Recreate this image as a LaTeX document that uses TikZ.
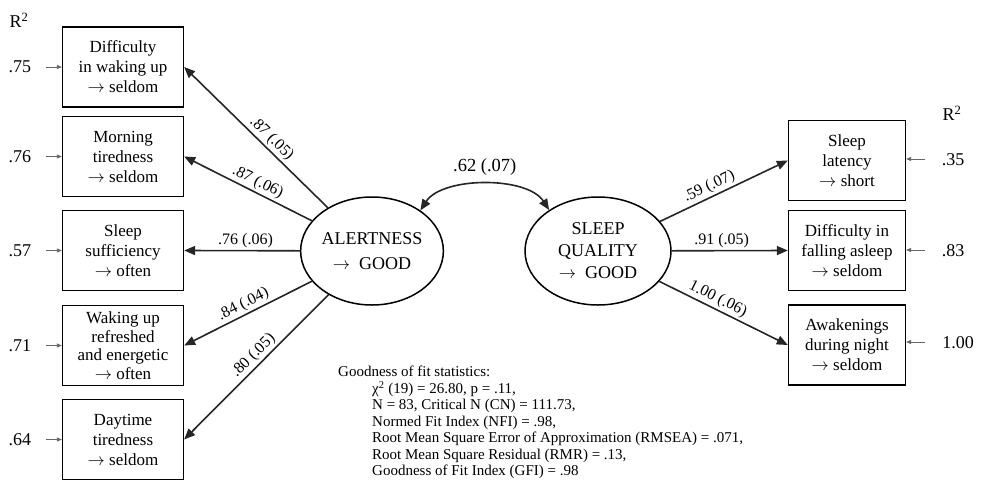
\documentclass[tikz,border=0pt]{standalone}
\usepackage{fontspec}
\setmainfont{Liberation Serif}
\usetikzlibrary{arrows.meta,shapes.geometric}

\begin{document}
\begin{tikzpicture}[x=1pt,y=-1pt,
  ind/.style={draw, line width=1.3pt, minimum width=121pt, minimum height=80pt,
    align=center, inner sep=0pt, font=\fontsize{17}{20}\selectfont},
  lat/.style={draw, ellipse, line width=1.5pt, minimum width=142pt, minimum height=108pt,
    inner sep=0pt, align=center},
  load/.style={-{Triangle[length=11pt,width=9pt]}, line width=1.6pt, draw=black!85},
  corr/.style={{Triangle[length=11pt,width=9pt]}-{Triangle[length=11pt,width=9pt]},
    line width=1.6pt, draw=black!85},
  lbl/.style={font=\fontsize{16}{16}\selectfont, sloped, above, inner sep=2pt},
  err/.style={-{Triangle[length=5pt,width=4pt]}, line width=0.8pt, draw=black!60},
  rsq/.style={font=\fontsize{18}{18}\selectfont, inner sep=0pt}
]
\useasboundingbox (0,0) rectangle (982,485);

% latent factors
\node[lat, font=\fontsize{18}{25}\selectfont] (alert) at (372,251)
  {ALERTNESS\\$\rightarrow$\ \ GOOD};
\node[lat, minimum width=146pt, font=\fontsize{18}{22}\selectfont] (sleep) at (598,251)
  {SLEEP\\QUALITY\\$\rightarrow$\ \ GOOD};

% indicators of alertness
\node[ind] (l1) at (123,67)    {Difficulty\\in waking up\\$\rightarrow$ seldom};
\node[ind] (l2) at (123,156.5) {Morning\\tiredness\\$\rightarrow$ seldom};
\node[ind] (l3) at (123,250.5) {Sleep\\sufficiency\\$\rightarrow$ often};
\node[ind, font=\fontsize{17}{18.5}\selectfont] (l4) at (123,345.5)
  {Waking up\\refreshed\\and energetic\\$\rightarrow$ often};
\node[ind] (l5) at (123,439.5) {Daytime\\tiredness\\$\rightarrow$ seldom};

% indicators of sleep quality
\node[ind, minimum width=117pt] (r1) at (847,160.5) {Sleep\\latency\\$\rightarrow$ short};
\node[ind, minimum width=117pt] (r2) at (847,250.5) {Difficulty in\\falling asleep\\$\rightarrow$ seldom};
\node[ind, minimum width=117pt] (r3) at (847,345)   {Awakenings\\during night\\$\rightarrow$ seldom};

% loadings
\draw[load] (alert) -- node[lbl, pos=0.44] {.87 (.05)} (l1.east);
\draw[load] (alert) -- node[lbl, pos=0.46] {.87 (.06)} (l2.east);
\draw[load] (alert) -- node[lbl, pos=0.47] {.76 (.06)} (l3.east);
\draw[load] (alert) -- node[lbl, pos=0.50] {.84 (.04)} (l4.east);
\draw[load] (alert) -- node[lbl, pos=0.47] {.80 (.05)} (l5.east);
\draw[load] (sleep) -- node[lbl, pos=0.42] {.59 (.07)} (r1.west);
\draw[load] (sleep) -- node[lbl, pos=0.43] {.91 (.05)} (r2.west);
\draw[load] (sleep) -- node[lbl, pos=0.42] {1.00 (.06)} (r3.west);

% factor correlation
\draw[corr] (alert.40) .. controls +(22,-34) and +(-22,-34) .. (sleep.140)
  node[pos=0.5, above=8pt, font=\fontsize{18.5}{18.5}\selectfont, inner sep=0pt] (rho) {.62 (.07)};

% explained variance
\node[rsq] (rl) at (19,20) {R\textsuperscript{2}};
\node[rsq] (rr) at (952,113) {R\textsuperscript{2}};

\node[rsq] (v1) at (20,67)    {.75};
\node[rsq] (v2) at (20,156.5) {.76};
\node[rsq] (v3) at (20,250.5) {.57};
\node[rsq] (v4) at (20,345.5) {.71};
\node[rsq] (v5) at (20,439.5) {.64};
\coordinate (e1) at (46,67);
\coordinate (e2) at (46,156.5);
\coordinate (e3) at (46,250.5);
\coordinate (e4) at (46,345.5);
\coordinate (e5) at (46,439.5);
\foreach \i in {1,...,5} \draw[err] (e\i) -- (e\i -| l\i.west);

\node[rsq] (w1) at (953,160) {.35};
\node[rsq] (w2) at (953,251) {.83};
\node[rsq] (w3) at (958,343) {1.00};
\coordinate (f1) at (925,159);
\coordinate (f2) at (925,250);
\coordinate (f3) at (925,342);
\foreach \i in {1,...,3} \draw[err] (f\i) -- (f\i -| r\i.east);

% fit statistics
\node[anchor=north west, align=left, inner sep=0pt, font=\fontsize{15}{16.5}\selectfont] (fit) at (338,366)
  {Goodness of fit statistics:\\
   \hspace*{34pt}χ\textsuperscript{2} (19) = 26.80, p = .11,\\
   \hspace*{34pt}N = 83, Critical N (CN) = 111.73,\\
   \hspace*{34pt}Normed Fit Index (NFI) = .98,\\
   \hspace*{34pt}Root Mean Square Error of Approximation (RMSEA) = .071,\\
   \hspace*{34pt}Root Mean Square Residual (RMR) = .13,\\
   \hspace*{34pt}Goodness of Fit Index (GFI) = .98};
\end{tikzpicture}
\end{document}
